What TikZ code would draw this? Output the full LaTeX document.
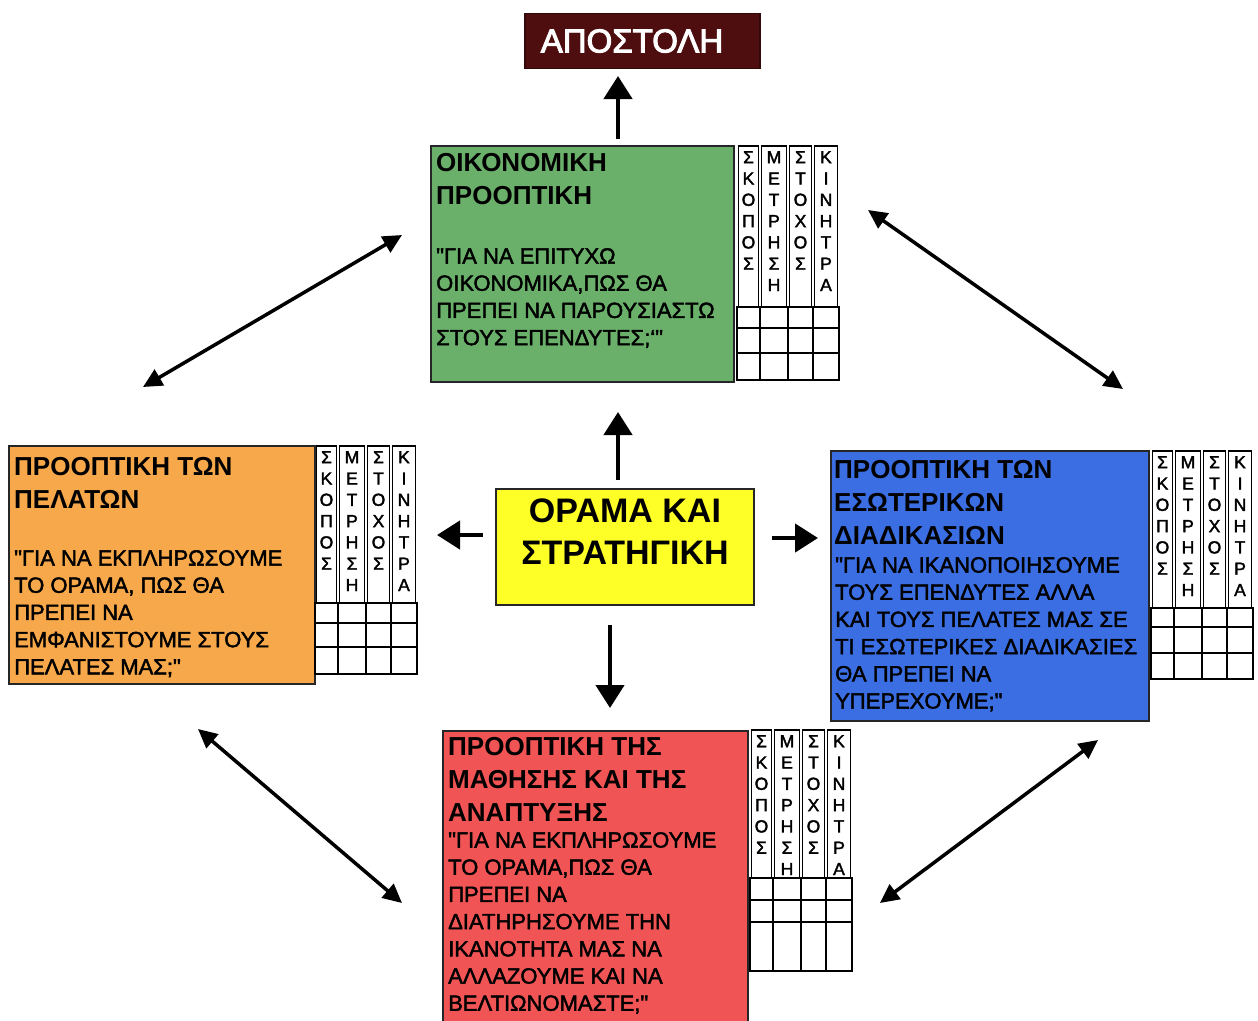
\documentclass[tikz,border=0pt]{standalone}
\usepackage{fontspec}
\setmainfont{Liberation Sans}[Ligatures=TeXOff]
\newfontface\medface{Liberation Sans}[Ligatures=TeXOff, FakeBold=2]
\newfontface\heavyface{Liberation Sans}[Ligatures=TeXOff, FakeBold=3]
\usetikzlibrary{arrows.meta}

\definecolor{finfill}{RGB}{106,176,106}
\definecolor{custfill}{RGB}{246,168,74}
\definecolor{procfill}{RGB}{58,110,226}
\definecolor{learnfill}{RGB}{240,84,84}
\definecolor{visfill}{RGB}{255,255,40}
\definecolor{missfill}{RGB}{78,14,16}
\definecolor{missedge}{RGB}{50,8,8}

\tikzset{
  panel/.style={draw=black!85, line width=1.7pt, anchor=north west, inner sep=0pt},
  ttl/.style={anchor=north west, inner sep=0pt, align=left,
    font=\fontsize{26}{33}\selectfont\bfseries},
  bdy/.style={anchor=north west, inner sep=0pt, align=left,
    font=\fontsize{22}{27.2}\selectfont\medface},
  vlabel/.style={anchor=north, inner sep=0pt, align=center,
    font=\fontsize{17.5}{21.3}\selectfont\medface},
  gridline/.style={line width=1.1pt, draw=black},
  bigarrow/.style={line width=4.5pt, -{Triangle[length=23pt,width=28pt]}},
  dblarrow/.style={line width=3.5pt,
    {Triangle[length=19pt,width=18pt]}-{Triangle[length=19pt,width=18pt]}},
}

% measures table beside each perspective:
% #1 name prefix, #2 left x, #3 top y, #4 bottom of the label strips,
% #5 and #6 inner row lines, #7 bottom y
\newcommand{\kpigrid}[7]{%
  \draw[gridline] (#2,#4) rectangle ({#2+102},#7);
  \draw[gridline] (#2,#5) -- ({#2+102},#5) (#2,#6) -- ({#2+102},#6);
  \foreach \c in {23,51,76} \draw[gridline] ({#2+\c},#4) -- ({#2+\c},#7);
  \draw[gridline] ({#2+1.5},#3) rectangle ({#2+21.5},#4);
  \draw[gridline] ({#2+24.5},#3) rectangle ({#2+49.5},#4);
  \draw[gridline] ({#2+52.5},#3) rectangle ({#2+74.5},#4);
  \draw[gridline] ({#2+77.5},#3) rectangle ({#2+100.5},#4);
  \node[vlabel] (#1-aim)    at ({#2+11.5},{#3+5}) {Σ\\Κ\\Ο\\Π\\Ο\\Σ};
  \node[vlabel] (#1-meas)   at ({#2+37},{#3+5})   {Μ\\Ε\\Τ\\Ρ\\Η\\Σ\\Η};
  \node[vlabel] (#1-target) at ({#2+63.5},{#3+5}) {Σ\\Τ\\Ο\\Χ\\Ο\\Σ};
  \node[vlabel] (#1-incent) at ({#2+89},{#3+5})   {Κ\\Ι\\Ν\\Η\\Τ\\Ρ\\Α};
}

\begin{document}
\begin{tikzpicture}[x=1pt,y=-1pt]
\useasboundingbox[fill=white] (0,0) rectangle (1258,1020);

% mission
\node[draw=missedge, line width=1.5pt, fill=missfill, minimum width=235pt,
  minimum height=55pt, inner sep=0pt] (mission) at (642.5,41) {};
\node[inner sep=0pt, text=white, font=\fontsize{33}{38}\selectfont\heavyface]
  (mission-text) at (632,41) {ΑΠΟΣΤΟΛΗ};

% financial perspective
\node[panel, fill=finfill, minimum width=303pt, minimum height=236pt] (fin) at (430,145) {};
\node[ttl] (fin-title) at (436,153) {ΟΙΚΟΝΟΜΙΚΗ\\ΠΡΟΟΠΤΙΚΗ};
\node[bdy] (fin-body) at (436,248) {"ΓΙΑ ΝΑ ΕΠΙΤΥΧΩ\\ΟΙΚΟΝΟΜΙΚΑ,ΠΩΣ ΘΑ\\ΠΡΕΠΕΙ ΝΑ ΠΑΡΟΥΣΙΑΣΤΩ\\ΣΤΟΥΣ ΕΠΕΝΔΥΤΕΣ;‘"};
\kpigrid{fin}{737}{146}{307}{328}{353}{380}

% customer perspective
\node[panel, fill=custfill, minimum width=306pt, minimum height=238pt] (cust) at (8,445) {};
\node[ttl] (cust-title) at (14,457) {ΠΡΟΟΠΤΙΚΗ ΤΩΝ\\ΠΕΛΑΤΩΝ};
\node[bdy] (cust-body) at (14,550) {"ΓΙΑ ΝΑ ΕΚΠΛΗΡΩΣΟΥΜΕ\\ΤΟ ΟΡΑΜΑ, ΠΩΣ ΘΑ\\ΠΡΕΠΕΙ ΝΑ\\ΕΜΦΑΝΙΣΤΟΥΜΕ ΣΤΟΥΣ\\ΠΕΛΑΤΕΣ ΜΑΣ;"};
\kpigrid{cust}{315}{446}{603}{623}{647}{674}

% internal process perspective
\node[panel, fill=procfill, minimum width=318pt, minimum height=270pt] (proc) at (830,450) {};
\node[ttl] (proc-title) at (834,460) {ΠΡΟΟΠΤΙΚΗ ΤΩΝ\\ΕΣΩΤΕΡΙΚΩΝ\\ΔΙΑΔΙΚΑΣΙΩΝ};
\node[bdy] (proc-body) at (835,557) {"ΓΙΑ ΝΑ ΙΚΑΝΟΠΟΙΗΣΟΥΜΕ\\ΤΟΥΣ ΕΠΕΝΔΥΤΕΣ ΑΛΛΑ\\ΚΑΙ ΤΟΥΣ ΠΕΛΑΤΕΣ ΜΑΣ ΣΕ\\ΤΙ ΕΣΩΤΕΡΙΚΕΣ ΔΙΑΔΙΚΑΣΙΕΣ\\ΘΑ ΠΡΕΠΕΙ ΝΑ\\ΥΠΕΡΕΧΟΥΜΕ;"};
\kpigrid{proc}{1151}{451}{608}{627}{653}{679}

% learning and growth perspective
\node[panel, fill=learnfill, minimum width=305pt, minimum height=310pt] (learn) at (442,730) {};
\node[ttl] (learn-title) at (448,737) {ΠΡΟΟΠΤΙΚΗ ΤΗΣ\\ΜΑΘΗΣΗΣ ΚΑΙ ΤΗΣ\\ΑΝΑΠΤΥΞΗΣ};
\node[bdy] (learn-body) at (448,832) {"ΓΙΑ ΝΑ ΕΚΠΛΗΡΩΣΟΥΜΕ\\ΤΟ ΟΡΑΜΑ,ΠΩΣ ΘΑ\\ΠΡΕΠΕΙ ΝΑ\\ΔΙΑΤΗΡΗΣΟΥΜΕ ΤΗΝ\\ΙΚΑΝΟΤΗΤΑ ΜΑΣ ΝΑ\\ΑΛΛΑΖΟΥΜΕ ΚΑΙ ΝΑ\\ΒΕΛΤΙΩΝΟΜΑΣΤΕ;"};
\kpigrid{learn}{750}{730}{878}{900}{922}{971}

% vision and strategy
\node[panel, fill=visfill, minimum width=258pt, minimum height=116pt] (vision) at (495,488) {};
\node[anchor=north, inner sep=0pt, align=center,
  font=\fontsize{34}{42}\selectfont\bfseries] (vision-text) at (625,499) {ΟΡΑΜΑ ΚΑΙ\\ΣΤΡΑΤΗΓΙΚΗ};

% arrow ends
\coordinate (fin-up-a) at (618,139);   \coordinate (fin-up-b) at (618,76);
\coordinate (vis-up-a) at (618,480);   \coordinate (vis-up-b) at (618,412);
\coordinate (vis-lt-a) at (483,535);   \coordinate (vis-lt-b) at (437,535);
\coordinate (vis-rt-a) at (772,538);   \coordinate (vis-rt-b) at (818,538);
\coordinate (vis-dn-a) at (610,625);   \coordinate (vis-dn-b) at (610,708);
\coordinate (tl-a) at (143,387);  \coordinate (tl-b) at (402,235);
\coordinate (tr-a) at (868,210);  \coordinate (tr-b) at (1123,389);
\coordinate (bl-a) at (198,729);  \coordinate (bl-b) at (402,903);
\coordinate (br-a) at (880,903);  \coordinate (br-b) at (1098,740);

\draw[bigarrow] (fin-up-a) -- (fin-up-b);
\draw[bigarrow] (vis-up-a) -- (vis-up-b);
\draw[bigarrow] (vis-lt-a) -- (vis-lt-b);
\draw[bigarrow] (vis-rt-a) -- (vis-rt-b);
\draw[bigarrow] (vis-dn-a) -- (vis-dn-b);

\draw[dblarrow] (tl-a) -- (tl-b);
\draw[dblarrow] (tr-a) -- (tr-b);
\draw[dblarrow] (bl-a) -- (bl-b);
\draw[dblarrow] (br-a) -- (br-b);
\end{tikzpicture}
\end{document}
